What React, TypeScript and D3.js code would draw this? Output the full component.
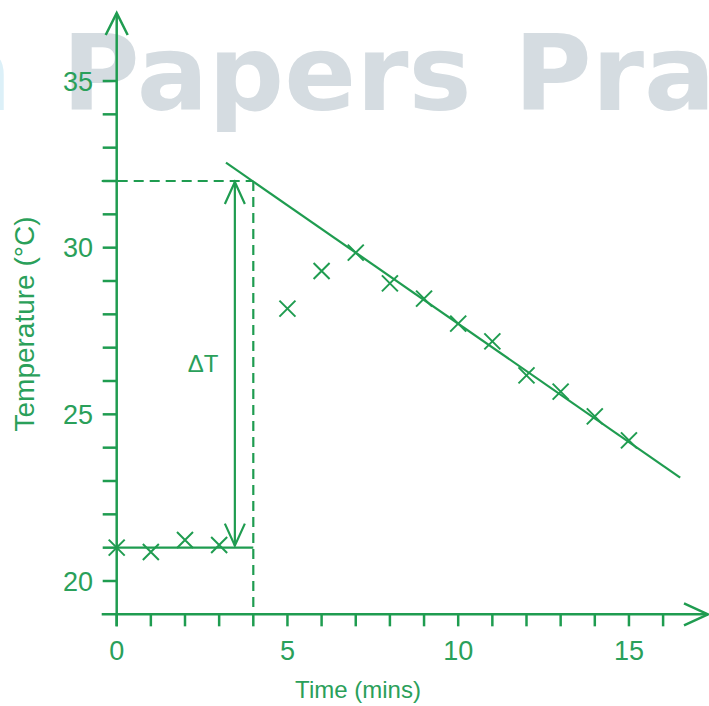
import React from "react";
import * as d3 from "d3";

// ---- data ----
const times = [0, 1, 2, 3, 5, 6, 7, 8, 9, 10, 11, 12, 13, 14, 15];
const temps = [21.0, 20.87, 21.23, 21.08, 28.17, 29.3, 29.85, 28.93, 28.47, 27.72, 27.19, 26.17, 25.68, 24.94, 24.22];
const xTicks = d3.range(0, 17);
const xTickLabels = [0, 5, 10, 15];
const yTicks = d3.range(20, 36);
const yTickLabels = [20, 25, 30, 35];
const baseline = [[0, 21], [4, 21]];
const coolingLine = [[3.2, 32.55], [16.5, 23.1]];
const mixTime = 4;
const deltaTTop = 32;
const deltaTBottom = 21;
const deltaTTime = 3.46;

const W = 709;
const H = 706;
const GREEN = "#1f9c50";
const TEXT_GREEN = "#2aa05a";

export default function App() {
  const x = d3.scaleLinear().domain([0, 16]).range([116.7, 116.7 + 16 * 34.15]);
  const y = d3.scaleLinear().domain([20, 35]).range([581, 81]);
  const yAxisBottom = y(19);
  const line = d3.line<number[]>().x((d) => x(d[0])).y((d) => y(d[1]));
  const x0 = x(0);
  const xTip = 708;
  const yTip = 13;
  const s = 8;

  return (
    <svg width={W} height={H} style={{ position: "absolute", left: 0, top: 0, background: "#fff" }}
      fontFamily="'Liberation Sans', Arial, sans-serif">
      {/* watermark */}
      <g fontFamily="'DejaVu Sans', sans-serif" fontWeight={700} fontSize={106}>
        <text x={12} y={110} textAnchor="end" fill="#dcf0f8">n</text>
        <text x={62} y={110} fill="#d5dce1">Papers</text>
        <text x={514} y={110} fill="#d5dce1">Pra</text>
      </g>

      {/* axes */}
      <g stroke={GREEN} strokeWidth={2.5} fill="none">
        <line x1={x0} x2={x0} y1={yTip} y2={yAxisBottom + 12} />
        <line x1={x0 - 15} x2={xTip} y1={yAxisBottom} y2={yAxisBottom} />
        <polyline points={`${x0 - 11},${yTip + 22} ${x0},${yTip} ${x0 + 11},${yTip + 22}`} />
        <polyline points={`${xTip - 24},${yAxisBottom - 11} ${xTip},${yAxisBottom} ${xTip - 24},${yAxisBottom + 11}`} />
        {yTicks.map((t) => (
          <line key={"yt" + t} x1={x0 - 14} x2={x0} y1={y(t)} y2={y(t)} />
        ))}
        {xTicks.map((t) => (
          <line key={"xt" + t} x1={x(t)} x2={x(t)} y1={yAxisBottom} y2={yAxisBottom + 12} />
        ))}
      </g>

      {/* tick labels */}
      <g fill={TEXT_GREEN} fontSize={27}>
        {yTickLabels.map((t) => (
          <text key={"yl" + t} x={93} y={y(t)} dy="0.36em" textAnchor="end">{t}</text>
        ))}
        {xTickLabels.map((t) => (
          <text key={"xl" + t} x={x(t)} y={660} textAnchor="middle">{t}</text>
        ))}
      </g>

      {/* axis titles */}
      <text x={358} y={698} textAnchor="middle" fill={TEXT_GREEN} fontSize={24}>Time (mins)</text>
      <text transform={`translate(34,324) rotate(-90)`} textAnchor="middle" fill={TEXT_GREEN} fontSize={28}>Temperature (°C)</text>

      {/* dashed guides */}
      <g stroke={GREEN} strokeWidth={2.2} strokeDasharray="10,6" fill="none">
        <line x1={x0 - 15} x2={x(mixTime)} y1={y(deltaTTop)} y2={y(deltaTTop)} />
        <line x1={x(mixTime)} x2={x(mixTime)} y1={y(deltaTTop)} y2={yAxisBottom} />
      </g>

      {/* fitted lines */}
      <g stroke={GREEN} strokeWidth={2.2} fill="none">
        <path d={line(baseline) || ""} />
        <path d={line(coolingLine) || ""} />
      </g>

      {/* delta T arrow */}
      <g stroke={GREEN} strokeWidth={2.2} fill="none">
        <line x1={x(deltaTTime)} x2={x(deltaTTime)} y1={y(deltaTTop) + 1} y2={y(deltaTBottom) - 2} />
        <polyline points={`${x(deltaTTime) - 10},${y(deltaTTop) + 23} ${x(deltaTTime)},${y(deltaTTop) + 1} ${x(deltaTTime) + 10},${y(deltaTTop) + 23}`} />
        <polyline points={`${x(deltaTTime) - 10},${y(deltaTBottom) - 24} ${x(deltaTTime)},${y(deltaTBottom) - 2} ${x(deltaTTime) + 10},${y(deltaTBottom) - 24}`} />
      </g>
      <text x={203} y={372} textAnchor="middle" fill={TEXT_GREEN} fontSize={24}>ΔT</text>

      {/* data crosses */}
      <g stroke={GREEN} strokeWidth={2} fill="none">
        {times.map((t, i) => {
          const cx = x(t);
          const cy = y(temps[i]);
          return (
            <path key={"p" + t} d={`M${cx - s},${cy - s}L${cx + s},${cy + s}M${cx - s},${cy + s}L${cx + s},${cy - s}`} />
          );
        })}
      </g>
    </svg>
  );
}
